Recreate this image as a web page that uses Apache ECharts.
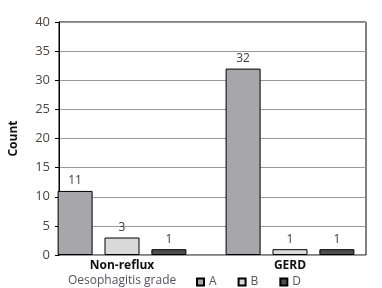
<!DOCTYPE html>
<html><head><meta charset="utf-8">
<script src="https://cdn.jsdelivr.net/npm/echarts@6/dist/echarts.min.js"></script>
<style>html,body{margin:0;padding:0;background:#fff}#c{width:382px;height:288px}</style>
</head><body><div id="c"></div>
<script>
const categories = ['Non-reflux', 'GERD'];
const gradeA = [11, 32];
const gradeB = [3, 1];
const gradeD = [1, 1];
const seriesNames = ['A', 'B', 'D'];
const yTicks = { min: 0, max: 40, interval: 5 };

const colors = ['#a7a7a9', '#dadada', '#4d4d4d'];
const font = '"Open Sans", "Noto Sans", sans-serif';
const chart = echarts.init(document.getElementById('c'), null, { renderer: 'canvas' });
const mk = (name, data, i) => ({
  name, type: 'bar', data, xAxisIndex: 1, yAxisIndex: 1,
  barWidth: 35, barGap: '34%',
  itemStyle: { color: colors[i], borderColor: '#000', borderWidth: 1 },
  label: { show: true, position: 'top', distance: 4, color: '#3a3a3a', fontSize: 12, fontFamily: font }
});
chart.setOption({
  animation: false,
  grid: [
    { left: 48, right: 16, top: 22, bottom: 33, show: true, borderColor: '#000', borderWidth: 1 },
    { left: 38, right: 8, top: 22, bottom: 33 }
  ],
  xAxis: [
    { gridIndex: 0, type: 'value', show: false, min: 0, max: 1 },
    { gridIndex: 1, type: 'category', data: categories,
      axisLine: { show: false }, axisTick: { show: false },
      axisLabel: { fontWeight: 'bold', fontSize: 12, color: '#111', margin: 5, fontFamily: font } }
  ],
  yAxis: [
    { gridIndex: 0, type: 'value', min: yTicks.min, max: yTicks.max, interval: yTicks.interval,
      name: 'Count', nameLocation: 'middle', nameGap: 39, nameRotate: 90,
      nameTextStyle: { fontWeight: 'bold', fontSize: 12, color: '#111', fontFamily: font },
      axisLine: { show: true, lineStyle: { color: '#000', width: 1 } },
      axisTick: { show: true, length: 4, lineStyle: { color: '#000' } },
      axisLabel: { fontSize: 13, color: '#4e4540', margin: 9, fontFamily: font },
      splitLine: { show: true, lineStyle: { color: '#999', width: 1 } } },
    { gridIndex: 1, type: 'value', min: yTicks.min, max: yTicks.max, show: false, splitLine: { show: false } }
  ],
  legend: {
    data: seriesNames, left: 196, top: 276, padding: 0, itemWidth: 7, itemHeight: 7, itemGap: 21,
    icon: 'rect',
    textStyle: { fontSize: 12, color: '#5a5060', fontFamily: font }
  },
  graphic: [{ type: 'text', left: 68, top: 275,
    style: { text: 'Oesophagitis grade', fontSize: 12, fill: '#5a5060', fontFamily: font } }],
  series: [mk('A', gradeA, 0), mk('B', gradeB, 1), mk('D', gradeD, 2)]
});
</script></body></html>
